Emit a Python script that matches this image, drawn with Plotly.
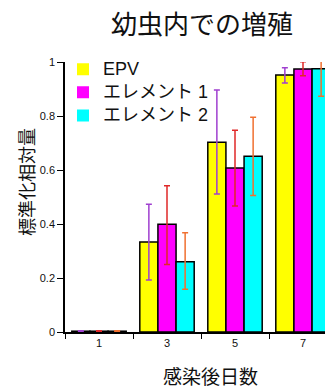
import plotly.graph_objects as go

days = ["1", "3", "5", "7"]
series_names = ["EPV", "エレメント 1", "エレメント 2"]
epv = [0.003, 0.333, 0.703, 0.952]
epv_err_plus = [0.002, 0.140, 0.193, 0.027]
epv_err_minus = [0.002, 0.140, 0.192, 0.030]
el1 = [0.003, 0.399, 0.607, 0.974]
el1_err_plus = [0.002, 0.143, 0.140, 0.027]
el1_err_minus = [0.002, 0.149, 0.140, 0.025]
el2 = [0.003, 0.260, 0.651, 0.975]
el2_err_plus = [0.002, 0.108, 0.144, 0.029]
el2_err_minus = [0.002, 0.102, 0.145, 0.102]
y_ticks = [0, 0.2, 0.4, 0.6, 0.8, 1]
y_ticklabels = ["0", "0.2", "0.4", "0.6", "0.8", "1"]

bar_colors = ["#ffff00", "#ff00ff", "#00ffff"]
err_colors = ["#a040d0", "#e02828", "#f07030"]

FONT = "Liberation Sans, Arial, Noto Sans CJK JP, sans-serif"
OFF = 8  # page body margin
W, H = 333, 386
L, T = 65 - OFF, 62 - OFF
PW, PH = 272, 270

fig = go.Figure()
for i, (name, vals, ep, em, bc, ec) in enumerate(zip(
    series_names,
    [epv, el1, el2],
    [epv_err_plus, el1_err_plus, el2_err_plus],
    [epv_err_minus, el1_err_minus, el2_err_minus],
    bar_colors,
    err_colors,
)):
    fig.add_trace(go.Bar(
        x=days, y=vals, name=name, showlegend=False, offsetgroup=str(i),
        marker=dict(color=bc, line=dict(color="black", width=1.5)),
        error_y=dict(type="data", array=ep, arrayminus=em, symmetric=False,
                     color=ec, thickness=1.5, width=3),
        cliponaxis=False,
    ))
    # legend entry (plain colour square, no outline)
    fig.add_trace(go.Bar(
        x=[None], y=[None], offsetgroup=str(i),
        name='<span style="font-size:18px">' + name + '</span>',
        marker=dict(color=bc, line=dict(width=0)),
        hoverinfo="skip",
    ))

fig.update_layout(
    width=W, height=H,
    margin=dict(l=L, r=W - L - PW, t=T, b=H - T - PH),
    paper_bgcolor="white", plot_bgcolor="white",
    barmode="group", bargap=0.2, bargroupgap=0,
    font=dict(family=FONT, color="#111"),
    title=dict(text="幼虫内での増殖", xref="container", x=(202 - OFF) / W, xanchor="center",
               yref="container", y=1 - (25 - OFF) / H, yanchor="middle",
               font=dict(size=26, family="Noto Sans CJK JP, sans-serif", color="#111")),
    showlegend=True,
    legend=dict(x=-2 / PW, y=1.035, xanchor="left", yanchor="top",
                font=dict(size=15.5, family=FONT), bgcolor="rgba(0,0,0,0)",
                itemwidth=30, tracegroupgap=0),
    xaxis=dict(type="category", categoryorder="array", categoryarray=days,
               range=[-0.5, 3.5], tickson="boundaries",
               ticks="outside", ticklen=5, tickwidth=1, tickcolor="black",
               showline=True, linecolor="black", linewidth=1.5,
               showgrid=False, tickfont=dict(size=11, family=FONT)),
    yaxis=dict(range=[0, 1], tickvals=y_ticks, ticktext=y_ticklabels,
               ticks="outside", ticklen=6, tickwidth=1, tickcolor="black",
               showline=True, linecolor="black", linewidth=1.5,
               showgrid=False, zeroline=False, tickfont=dict(size=11, family=FONT)),
    annotations=[
        dict(text="標準化相対量", xref="paper", yref="paper",
             x=(26 - 65) / PW, y=(332 - 182) / PH, xanchor="center", yanchor="middle",
             textangle=-90, showarrow=False,
             font=dict(size=18, family="Noto Sans CJK JP, sans-serif", color="#111")),
        dict(text="感染後日数", xref="paper", yref="paper",
             x=(210 - 65) / PW, y=(332 - 375) / PH, xanchor="center", yanchor="middle",
             showarrow=False,
             font=dict(size=19, family="Noto Sans CJK JP, sans-serif", color="#111")),
    ],
)

fig.write_html("out.html")
